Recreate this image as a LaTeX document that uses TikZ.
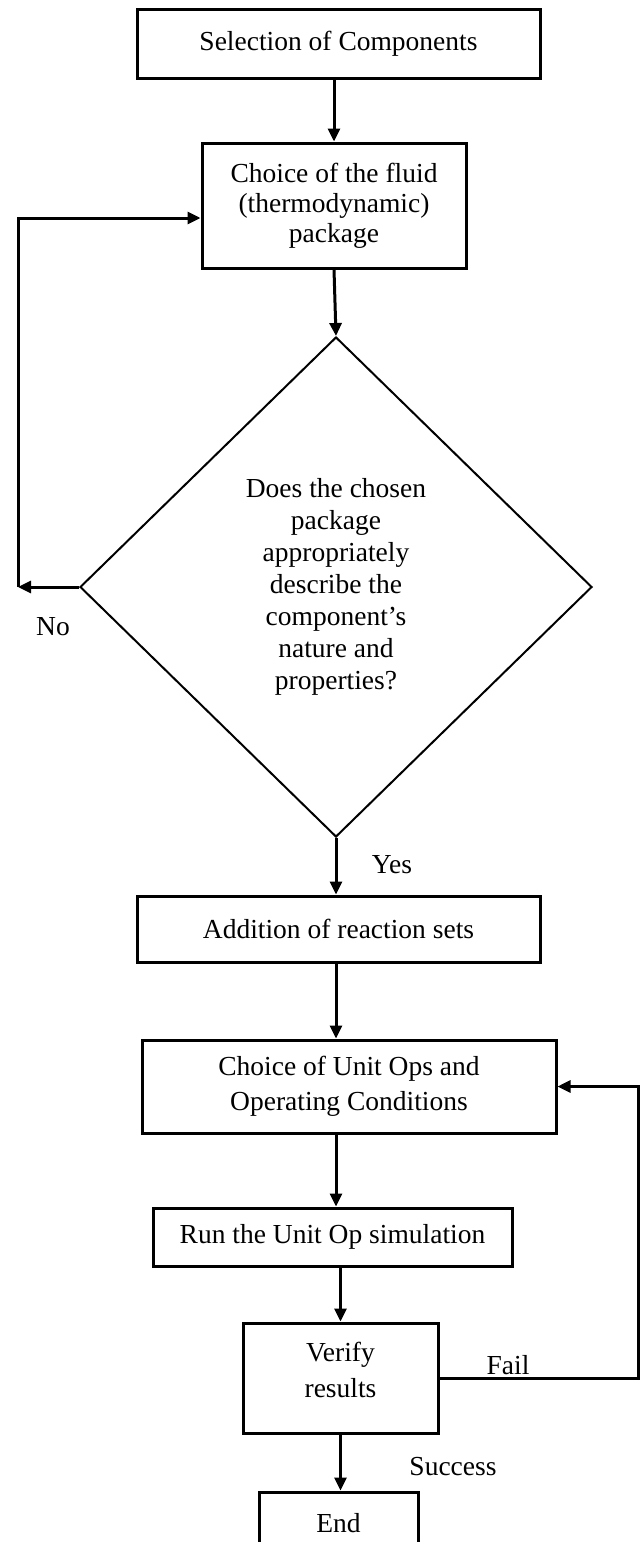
\documentclass[tikz,border=0pt]{standalone}
\usepackage{fontspec}
\setmainfont{Liberation Serif}
\usetikzlibrary{shapes.geometric,arrows.meta,calc}
\begin{document}
\begin{tikzpicture}[x=1pt,y=-1pt,
  txt/.style={font=\fontsize{27.5}{32}\selectfont},
  boxnode/.style={draw,line width=3pt,inner sep=0pt,align=center,txt},
  decnode/.style={draw,shape=diamond,line width=2pt,inner sep=0pt,align=center,txt},
  lbl/.style={inner sep=0pt,txt},
  arr/.style={line width=3pt,-{Triangle[length=13pt,width=12pt]}},
  ln/.style={line width=3pt}]
\useasboundingbox (0,0) rectangle (643,1542);
\coordinate (axis) at (336,0);
\node[boxnode,minimum width=403pt,minimum height=69pt] (b1) at (338.5,43.5) {Selection of Components};
\node[boxnode,minimum width=264pt,minimum height=125pt,font=\fontsize{27.5}{30}\selectfont] (b2) at (334,205.5) {Choice of the fluid\\(thermodynamic)\\package};
\node[decnode,minimum width=512pt,minimum height=500pt] (dia) at (336,587) {Does the chosen\\package\\appropriately\\describe the\\component’s\\nature and\\properties?};
\node[boxnode,minimum width=403pt,minimum height=66pt] (b3) at (338.5,929) {Addition of reaction sets};
\node[boxnode,minimum width=414pt,minimum height=93pt,font=\fontsize{27.5}{35}\selectfont] (b4) at (349,1086.5) {Choice of Unit Ops and\\Operating Conditions};
\node[boxnode,minimum width=359pt,minimum height=58pt] (b5) at (332.5,1237) {Run the Unit Op simulation};
\node[boxnode,minimum width=195pt,minimum height=110pt,font=\fontsize{27.5}{36}\selectfont] (b6) at (340.5,1378) {Verify\\results\\[-20pt]};
\node[boxnode,minimum width=159pt,minimum height=62pt] (b7) at (338.5,1523) {End};

\node[lbl] (no) at (53,627) {No};
\node[lbl] (yes) at (392,865) {Yes};
\node[lbl] (fail) at (508,1365) {Fail};
\node[lbl] (succ) at (453,1467) {Success};

\coordinate (nl) at (18,587);
\coordinate (nt) at (18,218);
\coordinate (fr) at (638,1200);

\draw[arr] (b1.south -| b2.north) -- (b2.north);
\draw[arr] (b2.south) -- (dia.north);
\draw[arr] (dia.south) -- (dia.south |- b3.north);
\draw[arr] (b3.south -| axis) -- (b4.north -| axis);
\draw[arr] (b4.south -| axis) -- (b5.north -| axis);
\draw[arr] (b5.south -| b6.north) -- (b6.north);
\draw[arr] (b6.south) -- (b6.south |- b7.north);

\draw[arr] (dia.west) -- (nl);
\draw[arr] (nl) -- (nt) -- (nt -| b2.west);

\draw[arr] (b6.east) -| (fr) |- (b4.east);
\end{tikzpicture}
\end{document}
